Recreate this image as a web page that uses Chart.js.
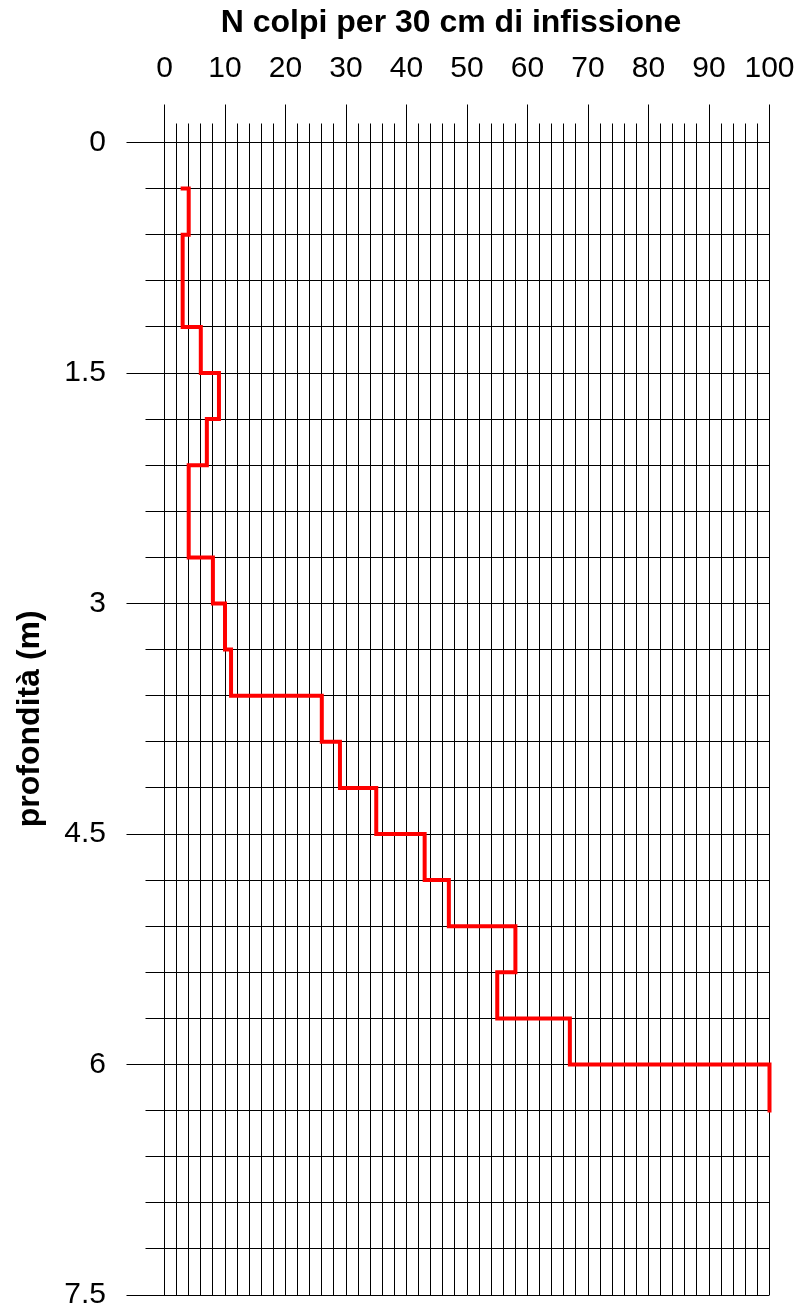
<!DOCTYPE html>
<html>
<head>
<meta charset="utf-8">
<script src="https://cdn.jsdelivr.net/npm/chart.js@4"></script>
<style>
  html, body { margin: 0; padding: 0; background: #fff; }
  #wrap { width: 808px; height: 1310px; }
</style>
</head>
<body>
<div id="wrap"><canvas id="c" width="808" height="1310"></canvas></div>
<script>
// ---- data ----
const xTitle = 'N colpi per 30 cm di infissione';
const yTitle = 'profondità (m)';
const depthFrom = [0.3, 0.6, 0.9, 1.2, 1.5, 1.8, 2.1, 2.4, 2.7, 3.0, 3.3, 3.6, 3.9, 4.2, 4.5, 4.8, 5.1, 5.4, 5.7, 6.0];
const depthTo   = [0.6, 0.9, 1.2, 1.5, 1.8, 2.1, 2.4, 2.7, 3.0, 3.3, 3.6, 3.9, 4.2, 4.5, 4.8, 5.1, 5.4, 5.7, 6.0, 6.3];
const blows     = [4, 3, 3, 6, 9, 7, 4, 4, 8, 10, 11, 26, 29, 35, 43, 47, 58, 55, 67, 100];
const startBlows = 3;
const xMajorTicks = [0, 10, 20, 30, 40, 50, 60, 70, 80, 90, 100];
const yMajorTicks = [0, 1.5, 3, 4.5, 6, 7.5];

// ---- build step line points ----
const pts = [{x: startBlows, y: depthFrom[0]}];
for (let i = 0; i < blows.length; i++) {
  pts.push({x: blows[i], y: depthFrom[i]});
  pts.push({x: blows[i], y: depthTo[i]});
}

const isMajor = (v, list) => list.some(m => Math.abs(m - v) < 1e-6);
const FONT = "'Liberation Sans', Arial, sans-serif";

const topTitlePlugin = {
  id: 'topTitle',
  afterDraw(chart) {
    const ctx = chart.ctx;
    ctx.save();
    ctx.font = 'bold 32px ' + FONT;
    ctx.fillStyle = '#000';
    ctx.textAlign = 'center';
    ctx.textBaseline = 'alphabetic';
    ctx.fillText(xTitle, 451, 32);
    ctx.restore();
  }
};

function zeroPad(s) { s.paddingTop = 0; s.paddingBottom = 0; s.paddingLeft = 0; s.paddingRight = 0; }

new Chart(document.getElementById('c'), {
  type: 'scatter',
  data: {
    datasets: [{
      data: pts,
      showLine: true,
      borderColor: '#ff0000',
      borderWidth: 4,
      pointRadius: 0,
      tension: 0,
      borderJoinStyle: 'miter',
      borderCapStyle: 'square',
      clip: false
    }]
  },
  options: {
    responsive: false,
    animation: false,
    devicePixelRatio: 1,
    layout: { padding: { left: 0, top: 0, right: 38.5, bottom: 15 } },
    plugins: { legend: { display: false }, tooltip: { enabled: false } },
    scales: {
      x: {
        type: 'linear',
        position: 'top',
        min: 0, max: 100,
        afterFit(s) { s.height = 142.5; zeroPad(s); },
        border: { display: true, color: '#000', width: 1 },
        grid: {
          color: '#000', lineWidth: 1, tickLength: 38, tickColor: '#000',
          tickBorderDash: (ctx) => (ctx.tick && isMajor(ctx.tick.value, xMajorTicks)) ? [] : [0, 19, 19, 0]
        },
        ticks: {
          stepSize: 2, autoSkip: false, maxRotation: 0, minRotation: 0,
          padding: 21, color: '#000',
          font: { family: FONT, size: 30, lineHeight: 1 },
          callback: (v) => isMajor(v, xMajorTicks) ? String(v) : ''
        },
        title: { display: false }
      },
      y: {
        type: 'linear',
        position: 'left',
        reverse: true,
        min: 0, max: 7.5,
        afterFit(s) { s.width = 164.5; zeroPad(s); },
        border: { display: true, color: '#000', width: 1 },
        grid: {
          color: '#000', lineWidth: 1, tickLength: 38, tickColor: '#000',
          tickBorderDash: (ctx) => (ctx.tick && isMajor(ctx.tick.value, yMajorTicks)) ? [] : [0, 19, 19, 0]
        },
        ticks: {
          stepSize: 0.3, autoSkip: false,
          padding: 20.5, color: '#000',
          font: { family: FONT, size: 30, lineHeight: 1 },
          callback: (v) => isMajor(v, yMajorTicks) ? String(Math.round(v * 10) / 10) : ''
        },
        title: {
          display: true, text: yTitle, color: '#000',
          font: { family: FONT, size: 32, weight: 'bold' },
          padding: { top: 11, bottom: 0 }
        }
      }
    }
  },
  plugins: [topTitlePlugin]
});
</script>
</body>
</html>
